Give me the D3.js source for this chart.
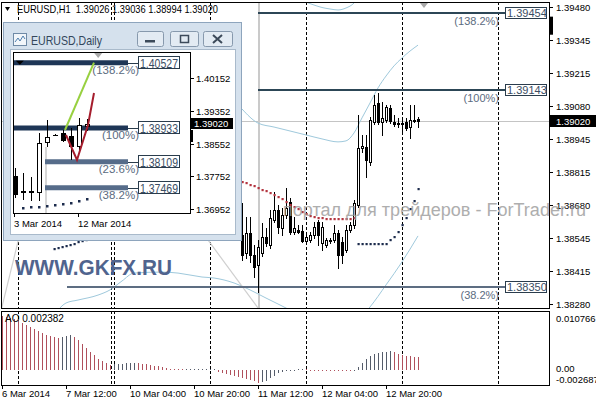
<!DOCTYPE html>
<html><head><meta charset="utf-8">
<script src="https://cdn.jsdelivr.net/npm/d3@7"></script>
<style>
html,body{margin:0;padding:0;background:#fff;overflow:hidden}
svg{display:block}
text{font-family:"Liberation Sans",Arial,sans-serif}
</style></head><body>
<svg id="chart" width="596" height="400"></svg>
<script>
// ================= DATA =================
const headerText = "EURUSD,H1  1.39026 1.39036 1.38994 1.39020";
const firstBar = 60;
const h1Open  = [1.38559,1.38486,1.38567,1.38478,1.38438,1.38486,1.38551,1.38519,1.38620,1.38660,1.38587,1.38640,1.38692,1.38571,1.38579,1.38575,1.38535,1.38539,1.38559,1.38611,1.38527,1.38519,1.38535,1.38539,1.38567,1.38531,1.38498,1.38579,1.38599,1.38680,1.38910,1.38914,1.38854,1.39015,1.39092,1.39015,1.39024,1.39072,1.39015,1.39011,1.39011,1.39015,1.38995,1.39024,1.39026];
const h1High  = [1.38688,1.38632,1.38632,1.38519,1.38539,1.38607,1.38587,1.38660,1.38733,1.38680,1.38668,1.38749,1.38708,1.38632,1.38599,1.38599,1.38567,1.38571,1.38611,1.38620,1.38611,1.38547,1.38547,1.38599,1.38579,1.38551,1.38599,1.38611,1.38700,1.39044,1.38963,1.38963,1.39036,1.39124,1.39133,1.39096,1.39084,1.39084,1.39044,1.39032,1.39036,1.39032,1.39084,1.39084,1.39036];
const h1Low   = [1.38458,1.38466,1.38450,1.38389,1.38329,1.38474,1.38514,1.38506,1.38611,1.38567,1.38559,1.38628,1.38563,1.38563,1.38567,1.38531,1.38527,1.38531,1.38547,1.38519,1.38498,1.38510,1.38527,1.38531,1.38426,1.38446,1.38490,1.38571,1.38587,1.38672,1.38894,1.38793,1.38842,1.39007,1.39007,1.38963,1.39015,1.39011,1.38999,1.38995,1.38971,1.38983,1.38951,1.39015,1.38994];
const h1Close = [1.38478,1.38567,1.38478,1.38430,1.38510,1.38551,1.38527,1.38628,1.38660,1.38591,1.38640,1.38668,1.38571,1.38587,1.38571,1.38535,1.38551,1.38559,1.38591,1.38559,1.38591,1.38539,1.38539,1.38567,1.38478,1.38478,1.38579,1.38599,1.38688,1.38910,1.38918,1.38862,1.39024,1.39084,1.39015,1.39032,1.39076,1.39020,1.39007,1.39007,1.39007,1.38991,1.39024,1.39019,1.39020];

const sarRedStart = 60;
const sarRed = [1.38773,1.38767,1.38761,1.38755,1.38749,1.38741,1.38735,1.38729,1.38720,1.38712,1.38704,1.38692,1.38682,1.38672,1.38662,1.38652,1.38644,1.38636,1.38632,1.38628,1.38626,1.38624,1.38624,1.38624,1.38624,1.38624,1.38624,1.38624,1.38626];
const sarBlueIdx = [13,14,15,16,17,18,19,20,21,89,90,91,92,93,94,95,96,97,98,99,100,101,102,103,104];
const sarBlue = [1.38502,1.38506,1.38510,1.38514,1.38519,1.38523,1.38529,1.38533,1.38537,1.38523,1.38523,1.38523,1.38523,1.38523,1.38523,1.38523,1.38523,1.38539,1.38551,1.38571,1.38599,1.38628,1.38664,1.38696,1.38745];

const upperIdx = [60,64,68,72,76,80,84,86,88,90,92,94,96,98,100,102,104];
const upperBand = [1.39068,1.39011,1.38995,1.38979,1.38963,1.38947,1.38935,1.38939,1.38971,1.39032,1.39092,1.39153,1.39201,1.39242,1.39274,1.39302,1.39326];
const topIdx = [74,76,78,80,82,84,86,88,89];
const topBand = [1.39516,1.39500,1.39488,1.39478,1.39472,1.39468,1.39476,1.39496,1.39516];
const lowerIdx = [14,16,19,24,27,30,33,40,44,50,53,58,62,66,70,74,84,90,92,96,100,104];
const lowerBand = [1.38256,1.38284,1.38296,1.38316,1.38337,1.38373,1.38405,1.38409,1.38405,1.38389,1.38385,1.38365,1.38337,1.38304,1.38272,1.38240,1.38195,1.38232,1.38268,1.38357,1.38450,1.38555];
const grayLineAIdx = [-0.5,6];     const grayLineA = [1.38236,1.38664];
const grayLineBIdx = [50.75,66];   const grayLineB = [1.38555,1.38220];

const priceTicks = [1.39480,1.39345,1.39215,1.39080,1.38945,1.38815,1.38680,1.38545,1.38415,1.38280];
const lastPrice = 1.39020;
const fibLevels = [1.39454,1.39143,1.38350];
const fibNames  = ["(138.2%)","(100%)","(38.2%)"];
const fibStart  = [64,64,16.25];

const timeTickIdx = [0,16,32,48,64,80,96];
const timeLabels  = ["6 Mar 2014","7 Mar 12:00","10 Mar 04:00","10 Mar 20:00","11 Mar 12:00","12 Mar 04:00","12 Mar 20:00"];
const daySeparators = [4,27.25,28,52,76,100,124];

const aoValues = [0.01009,0.00990,0.00971,0.00953,0.00934,0.00878,0.00841,0.00803,0.00766,0.00729,
 0.00691,0.00654,0.00635,0.00617,0.00598,0.00602,0.00620,0.00640,0.00617,0.00560,
 0.00486,0.00411,0.00336,0.00280,0.00205,0.00168,0.00131,0.00093,0.00098,0.00105,
 0.00112,0.00118,0.00125,0.00128,0.00120,0.00110,0.00100,0.00088,0.00075,0.00060,
 0.00045,0.00030,0.00015,0.00008,0.00004,0.00002,0.00004,0.00006,0.00008,0.00010,
 0.00012,0.00014,0.00016,0.00018,-0.00037,-0.00056,-0.00075,-0.00093,-0.00112,-0.00131,
 -0.00149,-0.00168,-0.00187,-0.00205,-0.00250,-0.00240,-0.00210,-0.00160,-0.00110,-0.00070,
 -0.00040,-0.00020,-0.00008,-0.00004,0.00002,0.00004,0.00001,-0.00006,-0.00008,-0.00010,
 -0.00012,-0.00013,-0.00014,-0.00015,-0.00016,-0.00017,-0.00018,-0.00019,-0.00005,0.00056,
 0.00131,0.00205,0.00262,0.00299,0.00318,0.00325,0.00336,0.00340,0.00320,0.00300,
 0.00275,0.00260,0.00252,0.00245,0.002382];
const aoTicks = [0.010766,0,-0.002687];
const aoTickLabels = ["0.010766","0.00","-0.002687"];
const aoTitle = "AO 0.002382";

// ---- inset (Daily) ----
const dailyTitle = "EURUSD,Daily";
const dOpen  = [1.37758,1.37392,1.37367,1.37367,1.38589,1.38760,1.38809,1.38735,1.38491,1.38980];
const dHigh  = [1.37954,1.37832,1.37734,1.38809,1.39126,1.38784,1.38882,1.38931,1.39175,1.39151];
const dLow   = [1.37221,1.37172,1.37148,1.37148,1.38467,1.38735,1.38589,1.38149,1.38393,1.38857];
const dClose = [1.37319,1.37367,1.37392,1.38564,1.38711,1.38760,1.38638,1.38491,1.39004,1.39020];
const dSarIdx = [1,2,3,4,5,6,7,8,9];
const dSar = [1.36977,1.37001,1.37001,1.37026,1.37050,1.37074,1.37099,1.37148,1.37196];
const dTicks = [1.40152,1.39352,1.38552,1.37752,1.36952];
const dLabelIdx = [0,8];
const dLabels = ["3 Mar 2014","12 Mar 2014"];
const dFibLevels = [1.40527,1.38933,1.38109,1.37469];
const dFibNames = ["(138.2%)","(100%)","(23.6%)","(38.2%)"];
const dFibStart = [-0.25,-0.25,3.75,3.75];
const dFibEnd = 14.125;
const dGreenIdx = [6.25,9.875];  const dGreen = [1.38882,1.40527];
const dRedIdx = [6.375,7.75,9.125,9.875]; const dRed = [1.38760,1.38149,1.39004,1.39786];

// ================= DRAW =================
const svg = d3.select('#chart');
svg.append('rect').attr('width',596).attr('height',400).attr('fill','#fff');

const X = d3.scaleLinear().domain([0,104]).range([2,418]);
const Y = d3.scaleLinear().domain([1.38280,1.39480]).range([304,7]);
const YA = d3.scaleLinear().domain([-0.002687,0.010766]).range([384,312]);
const PL=1, PR=549, PT=2, PB=308, AT=311, AB=385;
const px = v => Math.round(v)+0.5;

const defs = svg.append('defs');
defs.append('clipPath').attr('id','clipMain').append('rect').attr('x',PL+1).attr('y',PT+1).attr('width',PR-PL-1).attr('height',PB-PT-1);
defs.append('clipPath').attr('id','clipAO').append('rect').attr('x',PL+1).attr('y',AT+1).attr('width',PR-PL-1).attr('height',AB-AT-1);

const main = svg.append('g').attr('clip-path','url(#clipMain)');
const ao = svg.append('g').attr('clip-path','url(#clipAO)');

// bid line
main.append('line').attr('x1',PL).attr('x2',PR).attr('y1',px(Y(lastPrice))).attr('y2',px(Y(lastPrice)))
  .attr('stroke','#c4c4c4').attr('stroke-width',1);
// gray vertical
main.append('line').attr('x1',Math.round(X(64))+1).attr('x2',Math.round(X(64))+1).attr('y1',PT).attr('y2',PB)
  .attr('stroke','#cacaca').attr('stroke-width',2);

// separators
daySeparators.forEach(s=>{
  [[main,PT,PB],[ao,AT,AB]].forEach(([g,a,b])=>{
    g.append('line').attr('x1',px(X(s))).attr('x2',px(X(s))).attr('y1',a).attr('y2',b)
     .attr('stroke','#000').attr('stroke-width',1).attr('stroke-dasharray','3,2').attr('shape-rendering','crispEdges');
  });
});

// bands and diagonals
const ln = d3.line().x(d=>X(d[0])).y(d=>Y(d[1])).curve(d3.curveMonotoneX);
[[upperIdx,upperBand],[topIdx,topBand],[lowerIdx,lowerBand]].forEach(([ix,v])=>{
  main.append('path').attr('d',ln(ix.map((k,j)=>[k,v[j]]))).attr('fill','none').attr('stroke','#9fc9dc').attr('stroke-width',1);
});
[[grayLineAIdx,grayLineA],[grayLineBIdx,grayLineB]].forEach(([ix,v])=>{
  main.append('path').attr('d',d3.line().x(d=>X(d[0])).y(d=>Y(d[1]))(ix.map((k,j)=>[k,v[j]]))).attr('fill','none').attr('stroke','#cfcfcf').attr('stroke-width',1.2);
});

// fib lines
const fibColors = ['#2c4656','#2c4656','#5d6d82'];
const boxLeft = 505.5;
fibLevels.forEach((lv,j)=>{
  const yy = Math.round(Y(lv));
  main.append('line').attr('x1',X(fibStart[j])).attr('x2',boxLeft).attr('y1',yy).attr('y2',yy)
    .attr('stroke',fibColors[j]).attr('stroke-width',2);
});

// GKFX watermark
main.append('text').attr('x',15).attr('y',275).attr('font-size',22).attr('font-weight','bold')
  .attr('fill','#50648e').attr('textLength',157).attr('lengthAdjust','spacingAndGlyphs').text('WWW.GKFX.RU');

// candles
const cg = main.append('g').attr('shape-rendering','crispEdges');
h1Open.forEach((o,j)=>{
  const c=h1Close[j], cx=Math.round(X(firstBar+j));
  cg.append('line').attr('x1',cx+0.5).attr('x2',cx+0.5).attr('y1',Math.round(Y(h1High[j]))).attr('y2',Math.round(Y(h1Low[j]))+1)
    .attr('stroke','#000');
  const y1=Math.round(Y(o)), y2=Math.round(Y(c));
  cg.append('rect').attr('x',cx-0.5).attr('y',Math.min(y1,y2)+0.5).attr('width',2).attr('height',Math.max(Math.abs(y2-y1),0.01))
    .attr('fill', c>=o ? '#fff' : '#000').attr('stroke','#000');
});

// SAR
sarRed.forEach((v,j)=>{
  main.append('rect').attr('x',Math.round(X(sarRedStart+j))-0.5).attr('y',Math.round(Y(v))-1).attr('width',2.2).attr('height',2.2).attr('fill','#b3343f');
});
sarBlue.forEach((v,j)=>{
  main.append('rect').attr('x',Math.round(X(sarBlueIdx[j]))-0.5).attr('y',Math.round(Y(v))-1).attr('width',2.2).attr('height',2.2).attr('fill','#1c2b4c');
});

// triangle marker
main.append('path').attr('d',`M${X(105.5)-4},${PT+1}L${X(105.5)+4},${PT+1}L${X(105.5)},${PT+6}Z`).attr('fill','#a8a8a8');

// fib labels
fibLevels.forEach((lv,j)=>{
  const yy = Math.round(Y(lv));
  svg.append('rect').attr('x',boxLeft).attr('y',yy-5.5).attr('width',41).attr('height',11).attr('fill','#fff').attr('stroke','#2a3c4c');
  svg.append('text').attr('x',boxLeft+1.5).attr('y',yy+4).attr('font-size',11).attr('fill','#3b4d63').text(lv.toFixed(5));
  svg.append('text').attr('x',499).attr('y',yy+12).attr('text-anchor','end').attr('font-size',11).attr('fill','#5b6b80').text(fibNames[j]);
});

// AO bars
const zeroY = Math.round(YA(0));
const ag = ao.append('g').attr('shape-rendering','crispEdges');
aoValues.forEach((v,i)=>{
  const col = (i===0 || v < aoValues[i-1]) ? '#b0505c' : '#555c6a';
  let yv = Math.round(YA(v));
  if (v>=0){ if (yv>zeroY-1) yv=zeroY-1; }
  else { if (yv<zeroY+1) yv=zeroY+1; }
  ag.append('line').attr('x1',px(X(i))).attr('x2',px(X(i))).attr('y1',zeroY).attr('y2',yv).attr('stroke',col);
});
svg.append('text').attr('x',5).attr('y',322).attr('font-size',10).attr('fill','#000').text(aoTitle);

// frames
svg.append('rect').attr('x',PL+0.5).attr('y',PT+0.5).attr('width',PR-PL).attr('height',PB-PT).attr('fill','none').attr('stroke','#000');
svg.append('rect').attr('x',PL+0.5).attr('y',AT+0.5).attr('width',PR-PL).attr('height',AB-AT).attr('fill','none').attr('stroke','#000');

// price axis
priceTicks.forEach(t=>{
  const yy=Math.round(Y(t));
  svg.append('line').attr('x1',PR).attr('x2',PR+4).attr('y1',yy+0.5).attr('y2',yy+0.5).attr('stroke','#000');
  svg.append('text').attr('x',556).attr('y',yy+3.5).attr('font-size',9.5).attr('fill','#000').text(t.toFixed(5));
});
svg.append('rect').attr('x',PR+1).attr('y',Y(1.39441)).attr('width',3).attr('height',Y(1.39368)-Y(1.39441)).attr('fill','#000');
{
  const yy=Math.round(Y(lastPrice));
  svg.append('rect').attr('x',PR).attr('y',yy-6).attr('width',47).attr('height',12).attr('fill','#000');
  svg.append('text').attr('x',556).attr('y',yy+3.5).attr('font-size',9.5).attr('fill','#fff').text(lastPrice.toFixed(5));
}

// ForTrader watermark (drawn over the axis like the original)
svg.append('text').attr('x',283).attr('y',216).attr('font-size',18).attr('fill','#9a9a9a').attr('opacity',0.8)
  .attr('textLength',303).attr('lengthAdjust','spacingAndGlyphs').text('портал для трейдеров - ForTrader.ru');

// AO axis
const aoLabelDy=[10,2,-1];
aoTicks.forEach((t,j)=>{
  svg.append('text').attr('x',556).attr('y',YA(t)+aoLabelDy[j]).attr('font-size',9.5).attr('fill','#000').text(aoTickLabels[j]);
});
// time axis
timeTickIdx.forEach((t,j)=>{
  svg.append('line').attr('x1',px(X(t))).attr('x2',px(X(t))).attr('y1',AB).attr('y2',AB+4).attr('stroke','#000');
  svg.append('text').attr('x',Math.round(X(t))).attr('y',397).attr('font-size',9.5).attr('fill','#000').text(timeLabels[j]);
});

// header
svg.append('path').attr('d','M5,7L10,7L7.5,11Z').attr('fill','#000');
svg.append('text').attr('x',17).attr('y',13).attr('font-size',10.5).attr('fill','#000')
  .attr('textLength',201).attr('lengthAdjust','spacingAndGlyphs').attr('xml:space','preserve').text(headerText);

// ================= INSET =================
const XD = d3.scaleLinear().domain([0,9]).range([15,87]);
const YD = d3.scaleLinear().domain([1.36952,1.40152]).range([209,78]);
const win = svg.append('g');
win.append('rect').attr('x',3.5).attr('y',22.5).attr('width',238).attr('height',218).attr('fill','#d5e1ed').attr('stroke','#8ea5bd');
win.append('rect').attr('x',10.5).attr('y',49.5).attr('width',225).attr('height',185).attr('fill','#fff').attr('stroke','#a9bacb');
// title bar
win.append('rect').attr('x',13.5).attr('y',33.5).attr('width',13).attr('height',12).attr('fill','#f2f6fa').attr('stroke','#6f8aa6');
win.append('path').attr('d','M15,42L18,38L20,41L23,36L25,39').attr('fill','none').attr('stroke','#4f7fae').attr('stroke-width',1);
win.append('text').attr('x',31).attr('y',45).attr('font-size',13).attr('fill','#33475c')
  .attr('textLength',71).attr('lengthAdjust','spacingAndGlyphs').text(dailyTitle);
[[137,26],[170,28],[203,29]].forEach(([bx,bw])=>{
  win.append('rect').attr('x',bx+0.5).attr('y',31.5).attr('width',bw).attr('height',15).attr('rx',2)
    .attr('fill','#e3ebf3').attr('stroke','#8799ad');
});
win.append('rect').attr('x',145).attr('y',40).attr('width',10).attr('height',2.5).attr('fill','#3c4a5a');
win.append('rect').attr('x',180.5).attr('y',35.5).attr('width',8).attr('height',7).attr('fill','none').attr('stroke','#3c4a5a').attr('stroke-width',1.5);
win.append('path').attr('d','M213,35L222,43M222,35L213,43').attr('stroke','#3c4a5a').attr('stroke-width',2);

defs.append('clipPath').attr('id','clipD').append('rect').attr('x',14).attr('y',53).attr('width',176).attr('height',160);
const dg = win.append('g').attr('clip-path','url(#clipD)');
// gray vertical
dg.append('line').attr('x1',46).attr('x2',46).attr('y1',YD(1.38467)).attr('y2',214).attr('stroke','#c8c8c8').attr('stroke-width',1.5);
// fib thick lines
const dFibColors = ['#1e3656','#1e3656','#566c8a','#566c8a'];
dFibLevels.forEach((lv,j)=>{
  dg.append('line').attr('x1',XD(dFibStart[j])).attr('x2',XD(dFibEnd)).attr('y1',YD(lv)).attr('y2',YD(lv))
    .attr('stroke',dFibColors[j]).attr('stroke-width',5);
});
// daily candles
dOpen.forEach((o,k)=>{
  const c=dClose[k], cx=Math.round(XD(k));
  dg.append('line').attr('x1',cx+0.5).attr('x2',cx+0.5).attr('y1',Math.round(YD(dHigh[k]))).attr('y2',Math.round(YD(dLow[k]))).attr('stroke','#000').attr('shape-rendering','crispEdges');
  const y1=Math.round(YD(o)), y2=Math.round(YD(c));
  dg.append('rect').attr('x',cx-1.5).attr('y',Math.min(y1,y2)+0.5).attr('width',4).attr('height',Math.max(Math.abs(y2-y1),0.01))
    .attr('fill', c>=o ? '#fff' : '#000').attr('stroke','#000').attr('shape-rendering','crispEdges');
});
dSar.forEach((v,j)=>{
  dg.append('rect').attr('x',Math.round(XD(dSarIdx[j]))-1).attr('y',Math.round(YD(v))-1).attr('width',2.5).attr('height',2.5).attr('fill','#1c2b4c');
});
const lnD = d3.line().x(d=>XD(d[0])).y(d=>YD(d[1]));
dg.append('path').attr('d',lnD(dGreenIdx.map((k,j)=>[k,dGreen[j]]))).attr('fill','none').attr('stroke','#98d040').attr('stroke-width',2);
dg.append('path').attr('d',lnD(dRedIdx.map((k,j)=>[k,dRed[j]]))).attr('fill','none').attr('stroke','#a51d2d').attr('stroke-width',2);
dg.append('path').attr('d',`M${XD(10.4)-4},53L${XD(10.4)+4},53L${XD(10.4)},58Z`).attr('fill','#a8a8a8');
dg.append('path').attr('d',`M${XD(0.6)-4},${YD(dFibLevels[0])-2}L${XD(0.6)+4},${YD(dFibLevels[0])-2}L${XD(0.6)},${YD(dFibLevels[0])+2}Z`).attr('fill','#000');
// fib labels inset
dFibLevels.forEach((lv,j)=>{
  const yy=Math.round(YD(lv));
  win.append('line').attr('x1',XD(dFibEnd)).attr('x2',138).attr('y1',yy+0.5).attr('y2',yy+0.5).attr('stroke','#2a3c4c');
  win.append('rect').attr('x',138.5).attr('y',yy-6.5).attr('width',41).attr('height',12).attr('fill','#fff').attr('stroke','#2a3c4c');
  win.append('text').attr('x',140).attr('y',yy+4.5).attr('font-size',12).attr('fill','#3b4d63')
    .attr('textLength',38).attr('lengthAdjust','spacingAndGlyphs').text(lv.toFixed(5));
  win.append('text').attr('x',139).attr('y',yy+11).attr('text-anchor','end').attr('font-size',11.5).attr('fill','#5b6b80').text(dFibNames[j]);
});
// inset plot frame
win.append('rect').attr('x',13.5).attr('y',52.5).attr('width',177).attr('height',161).attr('fill','none').attr('stroke','#000');
dTicks.forEach(t=>{
  const yy=Math.round(YD(t));
  win.append('line').attr('x1',191).attr('x2',194).attr('y1',yy+0.5).attr('y2',yy+0.5).attr('stroke','#000');
  win.append('text').attr('x',196).attr('y',yy+3.5).attr('font-size',9.5).attr('fill','#000').text(t.toFixed(5));
});
{
  const yy=Math.round(YD(lastPrice));
  win.append('rect').attr('x',191).attr('y',yy-6).attr('width',42).attr('height',11).attr('fill','#000');
  win.append('text').attr('x',194).attr('y',yy+3).attr('font-size',9.5).attr('fill','#fff').text(lastPrice.toFixed(5));
  win.append('rect').attr('x',190).attr('y',yy+6).attr('width',3).attr('height',12).attr('fill','#000');
}
dLabelIdx.forEach((k,j)=>{
  win.append('line').attr('x1',px(XD(k))-1).attr('x2',px(XD(k))-1).attr('y1',214).attr('y2',217).attr('stroke','#000');
  win.append('text').attr('x',Math.round(XD(k))-1).attr('y',227).attr('font-size',9.5).attr('fill','#000').text(dLabels[j]);
});
</script>
</body></html>
